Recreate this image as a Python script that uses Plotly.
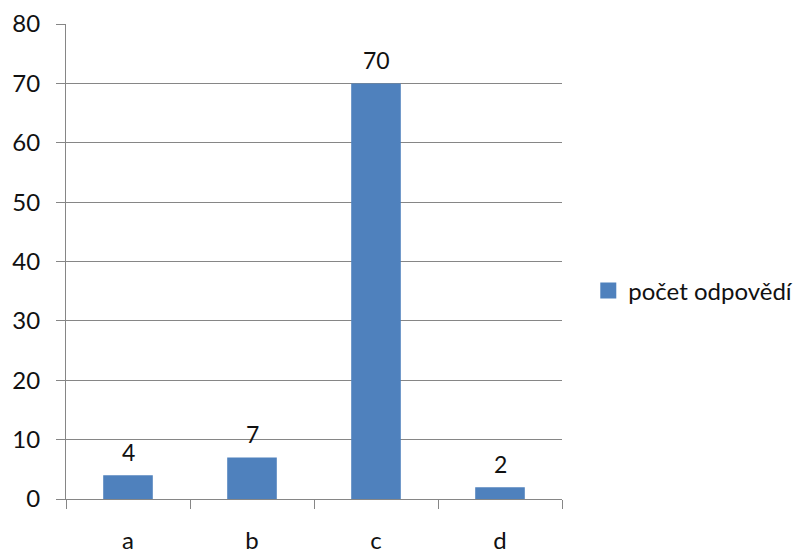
import plotly.graph_objects as go

categories = ["a", "b", "c", "d"]
values = [4, 7, 70, 2]
series_name = "počet odpovědí"
y_ticks = [0, 10, 20, 30, 40, 50, 60, 70, 80]

FONT = "Lato, 'Open Sans', sans-serif"
GRID = "#868686"
BAR = "#4F81BD"
TXT = "#111111"

fig = go.Figure()
fig.add_trace(go.Bar(
    x=categories, y=values, name=series_name,
    marker=dict(color=BAR, line=dict(width=0)),
    showlegend=False,
))
# legend entry with a larger square swatch
fig.add_trace(go.Scatter(
    x=[None], y=[None], mode="markers", name=series_name,
    marker=dict(symbol="square", size=16, color=BAR, line=dict(width=0)),
    showlegend=True,
))

for c, v in zip(categories, values):
    fig.add_annotation(x=c, y=v, text=str(v), showarrow=False,
                       yanchor="bottom", yshift=7,
                       font=dict(family=FONT, size=23, color=TXT))

fig.update_layout(
    width=797, height=551,
    margin=dict(l=66, r=235, t=24, b=52, autoexpand=False),
    paper_bgcolor="white", plot_bgcolor="white",
    bargap=0.6,
    font=dict(family=FONT, size=24, color=TXT),
    legend=dict(x=1.053, y=0.438, xanchor="left", yanchor="middle",
                font=dict(family=FONT, size=24, color=TXT),
                itemwidth=30, itemsizing="trace", bgcolor="rgba(0,0,0,0)"),
    xaxis=dict(
        type="category", tickson="boundaries", ticks="outside", ticklen=9,
        tickcolor=GRID, showline=True, linecolor=GRID, linewidth=1,
        showgrid=False, ticklabelstandoff=20, zeroline=False, automargin=False,
    ),
    yaxis=dict(
        range=[0, 80], tickvals=y_ticks, ticks="outside", ticklen=9,
        tickcolor=GRID, showgrid=True, gridcolor=GRID, gridwidth=1,
        showline=True, linecolor=GRID, linewidth=1, zeroline=False,
        ticklabelstandoff=11, automargin=False,
    ),
)

fig.write_html("out.html", config={"displayModeBar": False},
               post_script="document.body.style.margin='0';document.body.style.overflow='hidden';")
